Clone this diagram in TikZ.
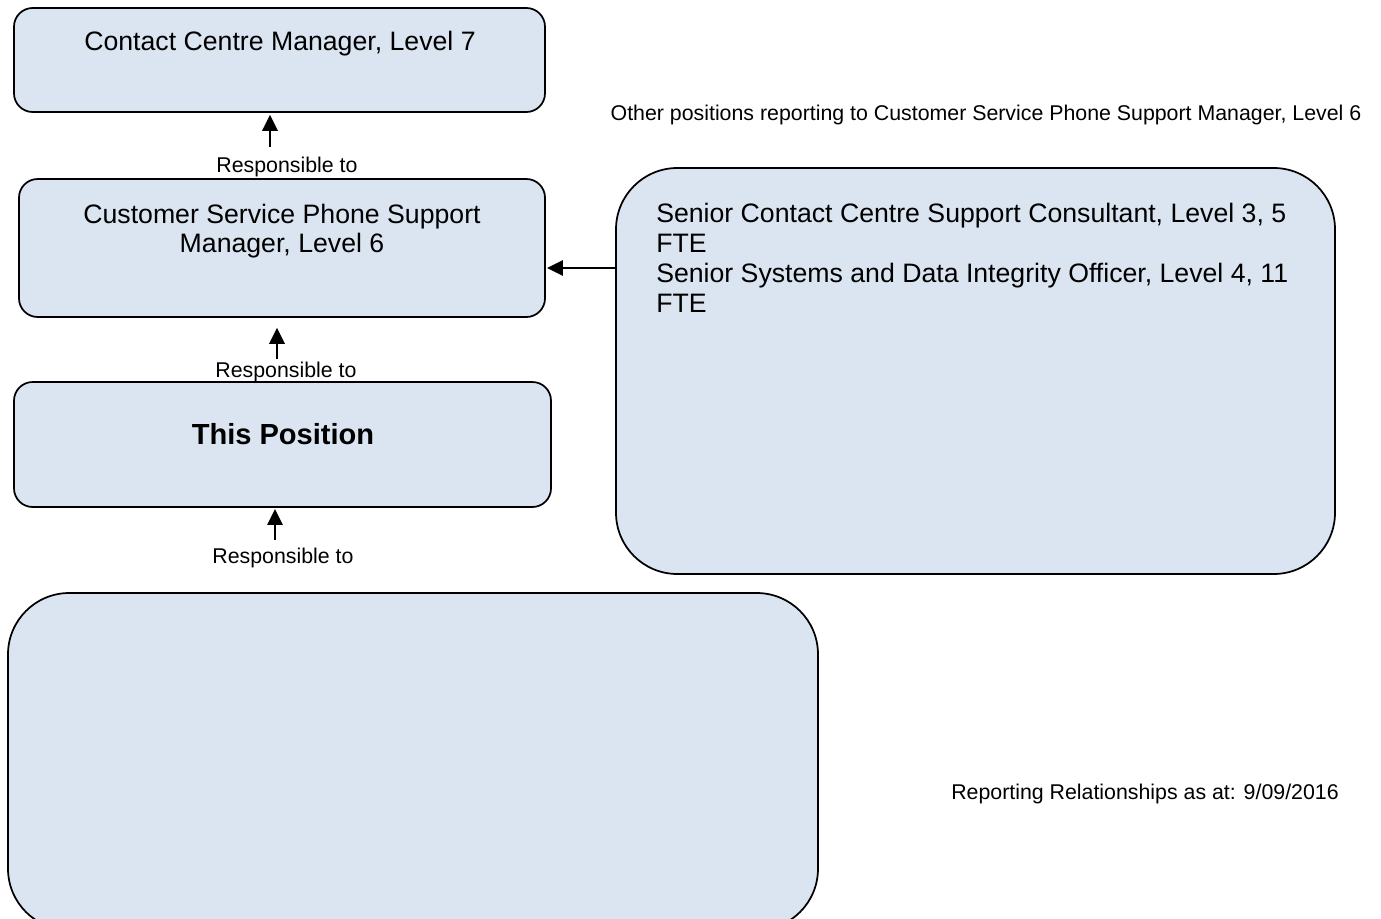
\documentclass[tikz,border=0pt]{standalone}
\usepackage{fontspec}
\setmainfont{Liberation Sans}
\usetikzlibrary{arrows.meta,fit}
\definecolor{boxfill}{HTML}{DBE5F1}
\tikzset{
  posbox/.style={draw=black, line width=1.3pt, fill=boxfill, rounded corners=14pt, inner sep=0pt},
  bigbox/.style={posbox, rounded corners=46pt},
  boxtext/.style={font=\fontsize{20}{22.5}\selectfont, inner sep=0pt},
  titletext/.style={font=\fontsize{21.8}{26}\selectfont\bfseries, inner sep=0pt},
  smalltext/.style={font=\fontsize{16}{18}\selectfont, inner sep=0pt},
  reportarrow/.style={line width=1.6pt, -{Triangle[length=12pt,width=11.5pt]}},
}
\begin{document}
\begin{tikzpicture}[x=0.75pt, y=-0.75pt]
\path[use as bounding box, clip] (0,0) rectangle (1381,918);

% position boxes
\node[posbox, fit={(14,8) (545,112)}] (mgr7) {};
\node[posbox, fit={(19,179) (545,317)}] (mgr6) {};
\node[posbox, fit={(14,382) (551,507)}] (self) {};
\node[bigbox, fit={(616,168) (1335,574)}] (others) {};
\node[bigbox, fit={(8,593) (818,930)}] (reports) {};

% box titles
\node[boxtext, anchor=base] (t7) at (280,50) {Contact Centre Manager, Level 7};
\node[boxtext, anchor=base] (t6a) at (282,223) {Customer Service Phone Support};
\node[boxtext, anchor=base] (t6b) at (282,252.5) {Manager, Level 6};
\node[titletext, anchor=base] (tself) at (283,444) {This Position};

% other positions reporting to the level 6 manager
\node[boxtext, anchor=base west] (o1) at (656,222) {Senior Contact Centre Support Consultant, Level 3, 5};
\node[boxtext, anchor=base west] (o2) at (656,252) {FTE};
\node[boxtext, anchor=base west] (o3) at (656,282) {Senior Systems and Data Integrity Officer, Level 4, 11};
\node[boxtext, anchor=base west] (o4) at (656,312) {FTE};

% reporting arrows and their labels
\coordinate (a1) at (270,147);
\coordinate (a2) at (277,359);
\coordinate (a3) at (275,540);
\coordinate (a4) at (615,268);
\draw[reportarrow, shorten >=1.5pt] (a1) -- (a1 |- mgr7.south);
\draw[reportarrow, shorten >=7.5pt] (a2) -- (a2 |- mgr6.south);
\draw[reportarrow, shorten >=0.8pt] (a3) -- (a3 |- self.south);
\draw[reportarrow, shorten >=0.8pt] (a4) -- (a4 -| mgr6.east);

\node[smalltext, anchor=base] (r1) at (287,172.5) {Responsible to};
\node[smalltext, anchor=base] (r2) at (286,377) {Responsible to};
\node[smalltext, anchor=base] (r3) at (283,563) {Responsible to};

% captions
\node[smalltext, anchor=base] (cap1) at (986,120) {Other positions reporting to Customer Service Phone Support Manager, Level 6};
\node[smalltext, anchor=base] (cap2) at (1145,799) {Reporting Relationships as at: 9/09/2016};
\end{tikzpicture}
\end{document}
